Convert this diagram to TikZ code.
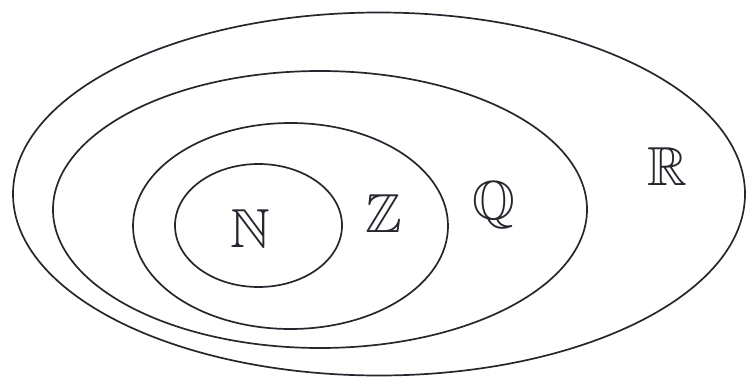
\documentclass[tikz,border=0pt]{standalone}
\usepackage{amssymb}
\usetikzlibrary{shapes.geometric}
\definecolor{ink}{HTML}{26262F}
\begin{document}
\begin{tikzpicture}[x=1pt,y=-1pt,
  setel/.style={ellipse,draw=ink,line width=1.7pt,inner sep=0pt,outer sep=0pt},
  lbl/.style={text=ink,inner sep=0pt,font=\fontsize{55}{60}\selectfont}]
\useasboundingbox (0,0) rectangle (746,377);
\node[setel,minimum width=732pt,minimum height=363pt] (R) at (379,194) {};
\node[setel,minimum width=534pt,minimum height=277pt] (Q) at (320,209.5) {};
\node[setel,minimum width=315pt,minimum height=206pt] (Z) at (290.5,226) {};
\node[setel,minimum width=167pt,minimum height=123pt] (N) at (258.5,225.5) {};
\node[lbl] (lN) at (250,229) {$\mathbb{N}$};
\node[lbl] (lZ) at (384,214) {$\mathbb{Z}$};
\node[lbl,anchor=north] (lQ) at (494,181) {$\mathbb{Q}$};
\node[lbl] (lR) at (667,167) {$\mathbb{R}$};
\end{tikzpicture}
\end{document}
